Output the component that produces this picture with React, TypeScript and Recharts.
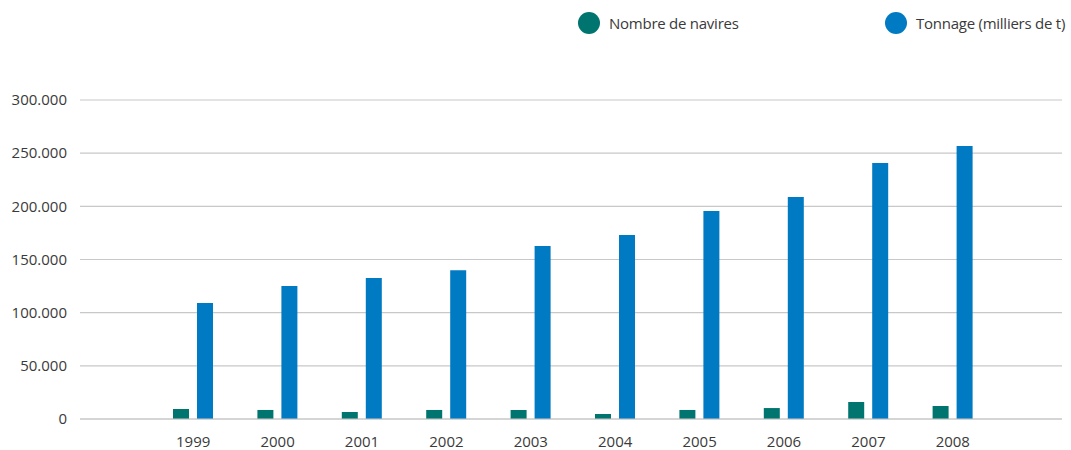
import { Bar, BarChart, CartesianGrid, XAxis, YAxis } from "recharts";

const years = ["1999", "2000", "2001", "2002", "2003", "2004", "2005", "2006", "2007", "2008"];
const navires = [9400, 8500, 6600, 8500, 8500, 4700, 8500, 10300, 16000, 12200];
const tonnage = [109000, 125000, 132600, 140000, 162700, 173000, 195600, 208800, 240800, 256800];
const yTicks = [0, 50000, 100000, 150000, 200000, 250000, 300000];

const seriesNames = ["Nombre de navires", "Tonnage (milliers de t)"];
const seriesColors = ["#00756F", "#007AC2"];

const data = years.map((y, i) => ({ year: y, navires: navires[i], tonnage: tonnage[i] }));

const font = "'Open Sans', sans-serif";
const textColor = "#3a3a3a";

const fmt = (v: number) =>
  v === 0 ? "0" : v.toLocaleString("de-DE", { maximumFractionDigits: 0 });

const legendPos = [578, 885];

const App = () => {
  return (
    <div style={{ position: "absolute", left: 0, top: 0, width: 1071, height: 450, fontFamily: font }}>
      {seriesNames.map((name, i) => (
        <div
          key={name}
          style={{
            position: "absolute",
            left: legendPos[i],
            top: 12,
            display: "flex",
            alignItems: "center",
            color: textColor,
            fontSize: 15,
            letterSpacing: -0.25,
            whiteSpace: "nowrap",
          }}
        >
          <span
            style={{
              width: 22,
              height: 22,
              borderRadius: "50%",
              background: seriesColors[i],
              display: "inline-block",
              marginRight: 9,
            }}
          />
          <span>{name}</span>
        </div>
      ))}
      <BarChart
        width={1071}
        height={450}
        data={data}
        margin={{ top: 100, right: 9, bottom: 0, left: 0 }}
        barGap={8}
        barCategoryGap={22}
      >
        <CartesianGrid vertical={false} stroke="#c8c8c8" strokeWidth={1.2} />
        <XAxis
          dataKey="year"
          padding={{ left: 71, right: 67 }}
          axisLine={{ stroke: "#c8c8c8", strokeWidth: 1.2 }}
          tickLine={false}
          tickMargin={11}
          height={31}
          tick={{ fill: textColor, fontSize: 15, fontFamily: font }}
        />
        <YAxis
          width={80}
          domain={[0, 300000]}
          ticks={yTicks}
          tickFormatter={fmt}
          axisLine={false}
          tickLine={false}
          tickMargin={7}
          tick={{ fill: textColor, fontSize: 15, fontFamily: font }}
        />
        <Bar dataKey="navires" name={seriesNames[0]} fill={seriesColors[0]} barSize={16} isAnimationActive={false} />
        <Bar dataKey="tonnage" name={seriesNames[1]} fill={seriesColors[1]} barSize={16} isAnimationActive={false} />
      </BarChart>
    </div>
  );
};

export default App;
